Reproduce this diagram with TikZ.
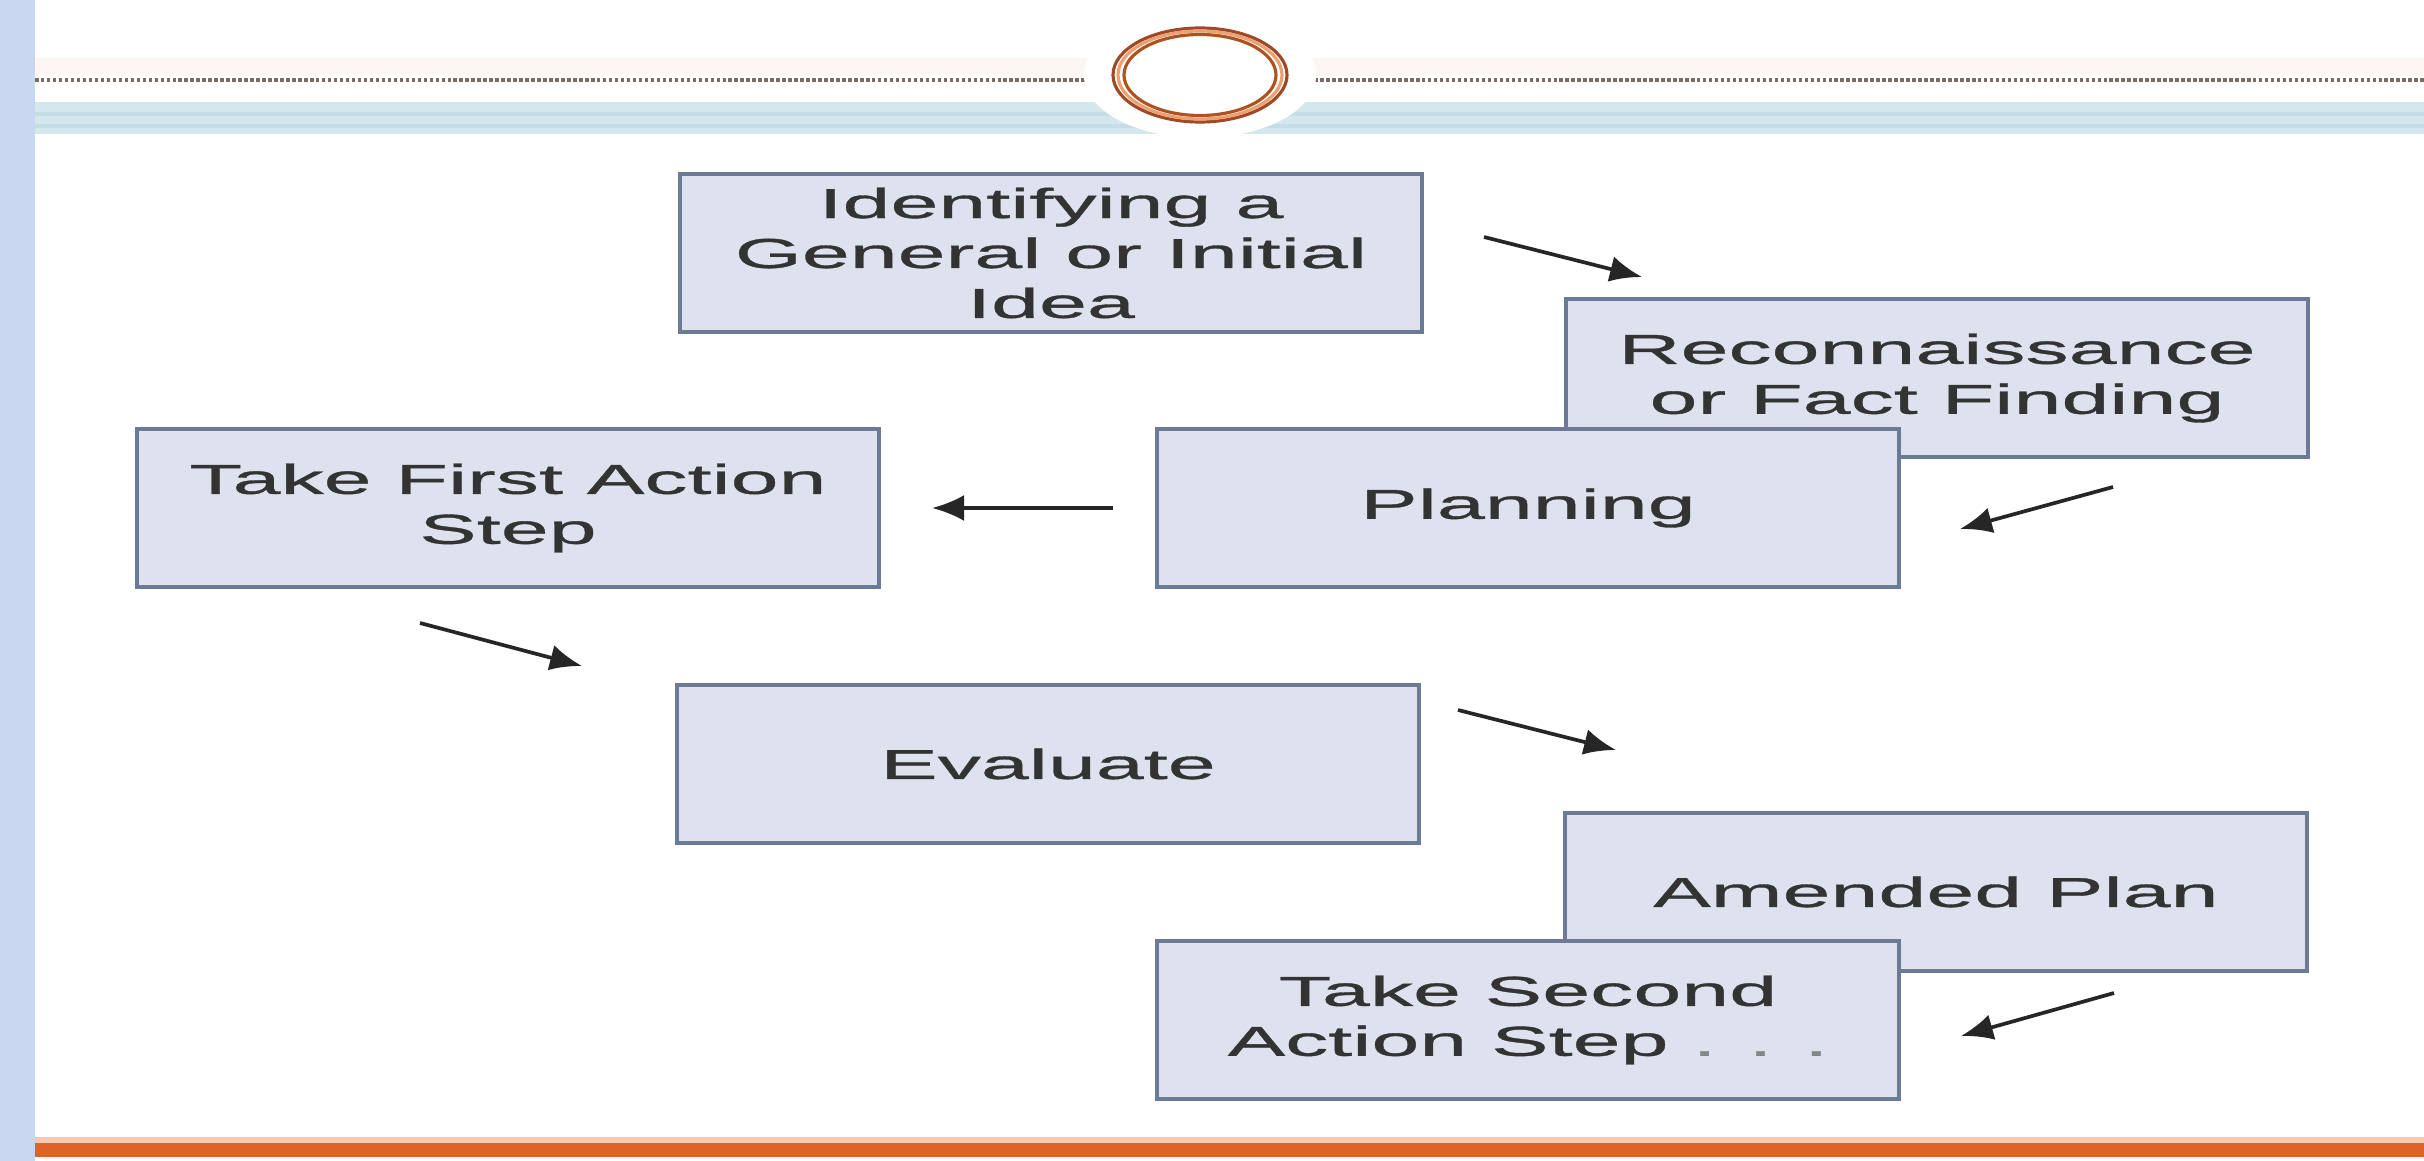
\documentclass[tikz,border=0pt]{standalone}
\usepackage{fontspec}
\setmainfont{Liberation Sans}
\newfontfamily\widefont[FakeStretch=2.06,FakeBold=0.8]{Liberation Sans}
\usetikzlibrary{arrows.meta}
\definecolor{boxfill}{HTML}{DEE1EE}
\definecolor{boxline}{HTML}{6C7A96}
\definecolor{txt}{HTML}{333333}
\definecolor{leftbar}{HTML}{C9D7F0}
\definecolor{tealband}{HTML}{D3E7EC}
\definecolor{tealdark}{HTML}{C4DEE5}
\definecolor{orangebar}{HTML}{DC6428}
\definecolor{ringbrown}{HTML}{9E4A28}
\definecolor{ringorange}{HTML}{EFA070}
\definecolor{dotline}{HTML}{7A6C64}
\tikzset{
  stepbox/.style={draw=boxline, fill=boxfill, line width=1pt, rectangle,
    minimum width=7.42cm, minimum height=1.58cm, inner sep=0pt,
    align=center, text=txt, font=\widefont\fontsize{11.9pt}{14.2pt}\selectfont},
  arr/.style={draw=black!85, line width=1.05pt, -{Latex[length=3.2mm,width=2.6mm]}}
}
\begin{document}
\begin{tikzpicture}[x=0.01cm,y=-0.01cm]
\useasboundingbox (0,0) rectangle (2424,1161);
\fill[white] (0,0) rectangle (2424,1161);
% top decoration
\fill[orangebar!6] (35,58) rectangle (2424,76);
\fill[tealband] (35,102) rectangle (2424,134);
\fill[tealdark] (35,112) rectangle (2424,116);
\fill[tealdark] (35,124) rectangle (2424,128);
\draw[dotline, line width=0.9pt, dash pattern=on 1pt off 0.7pt] (35,80) -- (2424,80);
\fill[white] (1200,76) ellipse [x radius=116, y radius=62];
\draw[ringbrown, line width=0.9pt] (1200,75) ellipse [x radius=87, y radius=47];
\draw[ringorange, line width=0.9pt] (1200,75) ellipse [x radius=82, y radius=44];
\draw[ringbrown!85!orange, line width=0.9pt] (1200,75) ellipse [x radius=76, y radius=40.5];
% bottom bar
\fill[orangebar!35] (35,1137) rectangle (2424,1143);
\fill[orangebar] (35,1143) rectangle (2424,1157);
% left bar
\fill[leftbar] (0,0) rectangle (35,1161);
% boxes
\node[stepbox] (idea) at (1051,253) {Identifying a\\General or Initial\\Idea};
\node[stepbox] (recon) at (1937,378) {Reconnaissance\\or Fact Finding};
\node[stepbox] (plan) at (1528,508) {Planning};
\node[stepbox] (first) at (508,508) {Take First Action\\Step};
\node[stepbox] (eval) at (1048,764) {Evaluate};
\node[stepbox] (amend) at (1936,892) {Amended Plan};
\node[stepbox] (second) at (1528,1020) {Take Second\\Action Step {\color{txt!60}. . .}};
% arrow end points
\coordinate (a1s) at (1484,237); \coordinate (a1e) at (1642,277);
\coordinate (a2s) at (2113,487); \coordinate (a2e) at (1960,529);
\coordinate (a3s) at (1113,508); \coordinate (a3e) at (932,508);
\coordinate (a4s) at (420,623);  \coordinate (a4e) at (582,666);
\coordinate (a5s) at (1458,710); \coordinate (a5e) at (1616,750);
\coordinate (a6s) at (2114,993); \coordinate (a6e) at (1961,1036);
\draw[arr] (a1s) -- (a1e);
\draw[arr] (a2s) -- (a2e);
\draw[arr] (a3s) -- (a3e);
\draw[arr] (a4s) -- (a4e);
\draw[arr] (a5s) -- (a5e);
\draw[arr] (a6s) -- (a6e);
\end{tikzpicture}
\end{document}
